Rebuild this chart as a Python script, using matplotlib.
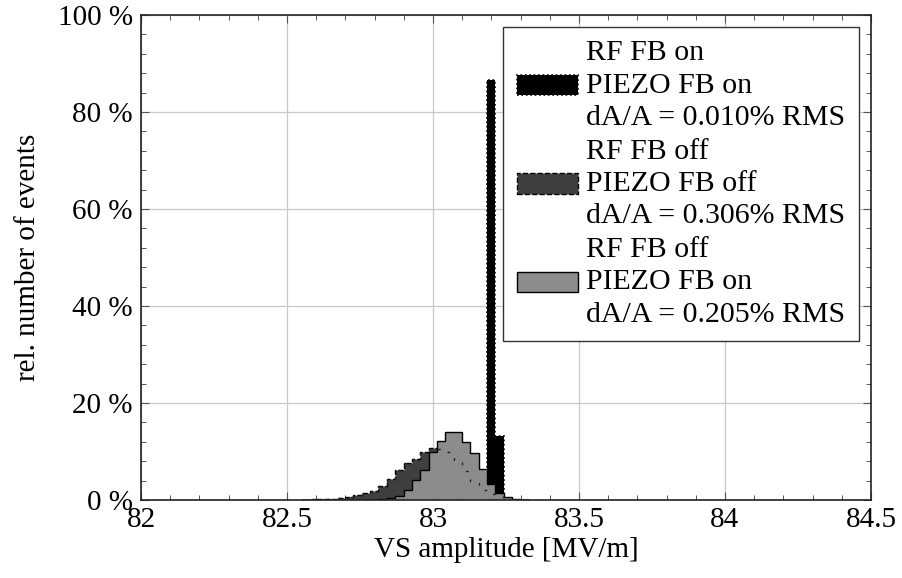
import matplotlib
matplotlib.use("Agg")
import matplotlib.pyplot as plt
import numpy as np
from matplotlib.ticker import MultipleLocator, FuncFormatter

plt.rcParams['font.family'] = ['Liberation Serif', 'DejaVu Serif']

# bin grid of the histograms (MV/m)
edges = np.round(82.556 + 0.0286 * np.arange(28), 4)

# relative number of events per bin [%]
rf_on_piezo_on = [0, 0, 0, 0, 0, 0, 0, 0, 0, 0, 0, 0, 0, 0, 0, 0, 0, 0, 0, 0,
                  0, 0.2, 86.6, 13.2, 0.3, 0, 0]
rf_off_piezo_off = [0.1, 0.2, 0.3, 0.3, 0.5, 0.7, 1.0, 1.4, 1.8, 2.8, 4.3, 6.2, 7.6,
                    8.5, 9.9, 10.8, 10.5, 10.0, 8.3, 5.9, 3.5, 2.0, 1.2, 0.6, 0.3, 0.1, 0]
rf_off_piezo_on = [0, 0, 0, 0, 0, 0, 0, 0, 0, 0.2, 0.4, 0.8, 2.1, 4.1, 6.2, 9.8,
                   12.2, 14.0, 14.0, 12.0, 9.6, 6.5, 3.4, 1.4, 0.7, 0.3, 0.1]

labels = ["RF FB on\nPIEZO FB on\ndA/A = 0.010% RMS",
          "RF FB off\nPIEZO FB off\ndA/A = 0.306% RMS",
          "RF FB off\nPIEZO FB on\ndA/A = 0.205% RMS"]

fig = plt.figure(figsize=(9.02, 5.78), dpi=100)
ax = fig.add_axes([0.1563, 0.1349, 0.8093, 0.8391])

ax.stairs(rf_on_piezo_on, edges, fill=True, facecolor='black', edgecolor='black',
          linestyle=':', linewidth=1.2, zorder=2, label=labels[0])
ax.stairs(rf_off_piezo_off, edges, fill=True, facecolor='#3f3f3f', edgecolor='black',
          linestyle='--', linewidth=1.0, zorder=2.1, label=labels[1])
ax.stairs(rf_off_piezo_on, edges, fill=True, facecolor='#8c8c8c', edgecolor='black',
          linestyle='-', linewidth=1.0, zorder=2.2, label=labels[2])
# dashed outline of the "off/off" histogram shows through the light one
ax.stairs(rf_off_piezo_off, edges, fill=False, edgecolor='#222222',
          linestyle=(0, (2, 7)), linewidth=1.0, zorder=2.3)

ax.set_xlim(82, 84.5)
ax.set_ylim(0, 100)
ax.xaxis.set_major_locator(MultipleLocator(0.5))
ax.xaxis.set_minor_locator(MultipleLocator(0.1))
ax.yaxis.set_major_locator(MultipleLocator(20))
ax.yaxis.set_minor_locator(MultipleLocator(4))
ax.xaxis.set_major_formatter(FuncFormatter(lambda v, p: f"{v:g}"))
ax.yaxis.set_major_formatter(FuncFormatter(lambda v, p: f"{v:g} %"))
ax.tick_params(which='both', direction='in', top=True, right=True, labelsize=21,
               color='#555555')
ax.tick_params(which='major', length=6, width=0.8)
ax.tick_params(which='minor', length=3.5, width=0.7)
ax.tick_params(axis='x', pad=5)
ax.tick_params(axis='y', pad=6)
ax.grid(True, which='major', color='#c8c8c8', linewidth=0.9)
ax.set_axisbelow(True)
for s in ax.spines.values():
    s.set_linewidth(1.2)
    s.set_color('#222222')

ax.set_xlabel("VS amplitude [MV/m]", fontsize=21, labelpad=3)
ax.set_ylabel("rel. number of events", fontsize=21, labelpad=12)

leg = ax.legend(loc='upper right', fontsize=21.5, fancybox=False, framealpha=1,
                edgecolor='#333333', handlelength=2.07, handleheight=0.67,
                handletextpad=0.27, borderaxespad=0.4, labelspacing=0.25,
                borderpad=0.45)
leg.get_frame().set_linewidth(1.0)
for t in leg.get_texts():
    t.set_linespacing(1.32)

fig.savefig("out.png", dpi=100)
